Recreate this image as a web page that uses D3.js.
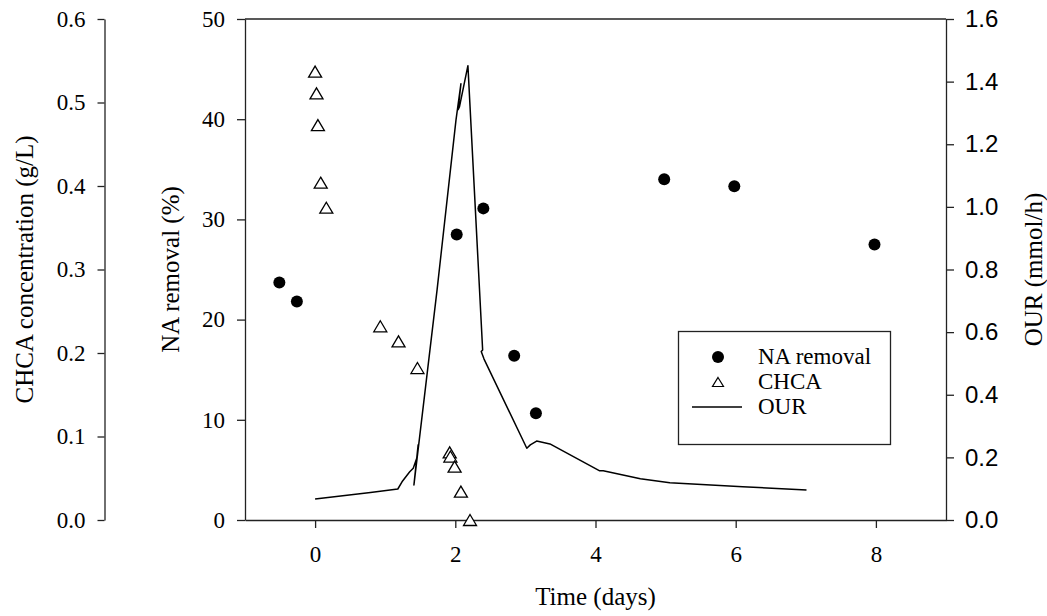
<!DOCTYPE html>
<html>
<head>
<meta charset="utf-8">
<script src="https://cdn.jsdelivr.net/npm/d3@7"></script>
<style>
  html, body { margin: 0; padding: 0; background: #fff; }
  svg { display: block; }
</style>
</head>
<body>
<svg id="chart" width="1047" height="616"></svg>
<script>
// NA removal (%) samples
const naTime = [-0.51, -0.26, 2.02, 2.40, 2.84, 3.15, 4.98, 5.98, 7.98];
const naRemoval = [23.7, 21.8, 28.5, 31.1, 16.4, 10.65, 34.0, 33.3, 27.5];

// CHCA concentration (g/L) samples
const chcaTime = [0.0, 0.02, 0.04, 0.08, 0.16, 0.93, 1.19, 1.46, 1.92, 1.93, 1.99, 2.08, 2.21];
const chcaConc = [0.537, 0.511, 0.473, 0.404, 0.374, 0.232, 0.214, 0.182, 0.081, 0.076, 0.064, 0.034, 0.0];

// OUR (mmol/h) trace, in logged order
const ourTime = [0, 0.79, 1.18, 1.24, 1.35, 1.40, 1.45, 1.47, 1.41, 1.74, 2.01, 2.08, 2.04, 2.06, 2.18,
                 2.39, 2.37, 2.41, 3.02, 3.07, 3.16, 3.35, 4.06, 4.11, 4.64, 5.06, 6.10, 7.01];
const ourRate = [0.067, 0.088, 0.099, 0.122, 0.154, 0.165, 0.197, 0.240, 0.112, 0.735, 1.278, 1.393, 1.310, 1.320, 1.451,
                 0.543, 0.538, 0.514, 0.229, 0.240, 0.252, 0.243, 0.157, 0.157, 0.132, 0.119, 0.106, 0.096];

// Tick values
const timeTicks = [0, 2, 4, 6, 8];
const naTicks = [0, 10, 20, 30, 40, 50];
const chcaTicks = [0, 0.1, 0.2, 0.3, 0.4, 0.5, 0.6];
const ourTicks = [0, 0.2, 0.4, 0.6, 0.8, 1.0, 1.2, 1.4, 1.6];

(function draw() {
  const plotL = 245, plotR = 946, plotT = 19, plotB = 520;
  const chcaAxisX = 104.5;
  const tickFont = 23;
  const sansTickFont = 24;
  const titleFont = 25;
  const axisColor = "#222";
  const serifFont = "'Liberation Serif', 'Times New Roman', serif";
  const sansFont = "'Liberation Sans', Arial, sans-serif";

  const svg = d3.select("#chart");

  const x = d3.scaleLinear().domain([-1, 9]).range([plotL, plotR]);
  const yNA = d3.scaleLinear().domain([0, 50]).range([plotB, plotT]);
  const yCHCA = d3.scaleLinear().domain([0, 0.6]).range([plotB, plotT]);
  const yOUR = d3.scaleLinear().domain([0, 1.6]).range([plotB, plotT]);

  function styleAxis(g, sans) {
    g.attr("font-family", null).attr("font-size", null);
    g.selectAll("path.domain").attr("stroke", axisColor).attr("stroke-width", 1.3);
    g.selectAll(".tick line").attr("stroke", axisColor).attr("stroke-width", 1.3);
    g.selectAll(".tick text")
      .attr("fill", "#000")
      .attr("font-size", sans ? sansTickFont : tickFont)
      .attr("font-family", sans ? sansFont : serifFont);
  }

  // Frame top edge
  svg.append("line")
    .attr("x1", plotL).attr("x2", plotR).attr("y1", plotT).attr("y2", plotT)
    .attr("stroke", axisColor).attr("stroke-width", 1.3);

  // Bottom time axis
  const gx = svg.append("g").attr("transform", `translate(0,${plotB})`)
    .call(d3.axisBottom(x).tickValues(timeTicks).tickSize(8).tickSizeOuter(0).tickPadding(18).tickFormat(d3.format("d")));
  styleAxis(gx, false);

  // NA removal axis (left side of frame)
  const gna = svg.append("g").attr("transform", `translate(${plotL},0)`)
    .call(d3.axisLeft(yNA).tickValues(naTicks).tickSize(8).tickSizeOuter(0).tickPadding(12).tickFormat(d3.format("d")));
  styleAxis(gna, false);

  // CHCA axis (detached, far left)
  const gch = svg.append("g").attr("transform", `translate(${chcaAxisX},0)`)
    .call(d3.axisLeft(yCHCA).tickValues(chcaTicks).tickSize(7).tickSizeOuter(0).tickPadding(12).tickFormat(d3.format(".1f")));
  styleAxis(gch, false);

  // OUR axis (right side of frame)
  const gour = svg.append("g").attr("transform", `translate(${plotR},0)`)
    .call(d3.axisRight(yOUR).tickValues(ourTicks).tickSize(8).tickSizeOuter(0).tickPadding(11).tickFormat(d3.format(".1f")));
  styleAxis(gour, true);

  // Axis titles
  const midY = (plotT + plotB) / 2;
  svg.append("text").attr("font-family", serifFont)
    .attr("transform", `translate(33,${midY}) rotate(-90)`)
    .attr("text-anchor", "middle").attr("font-size", titleFont)
    .text("CHCA concentration (g/L)");

  svg.append("text").attr("font-family", serifFont)
    .attr("transform", `translate(179,${midY}) rotate(-90)`)
    .attr("text-anchor", "middle").attr("font-size", titleFont)
    .text("NA removal (%)");

  svg.append("text").attr("font-family", serifFont)
    .attr("transform", `translate(1042,${midY}) rotate(-90)`)
    .attr("text-anchor", "middle").attr("font-size", titleFont)
    .text("OUR (mmol/h)");

  svg.append("text").attr("font-family", serifFont)
    .attr("x", (plotL + plotR) / 2).attr("y", 605)
    .attr("text-anchor", "middle").attr("font-size", titleFont)
    .text("Time (days)");

  // Triangle marker centred on its bounding box
  function trianglePath(w, h) {
    return `M0,${-h / 2}L${w / 2},${h / 2}L${-w / 2},${h / 2}Z`;
  }

  // OUR line
  const ourPts = ourTime.map((t, i) => [t, ourRate[i]]);
  svg.append("path")
    .datum(ourPts)
    .attr("fill", "none").attr("stroke", "#000").attr("stroke-width", 1.5)
    .attr("stroke-linejoin", "round")
    .attr("d", d3.line().x(d => x(d[0])).y(d => yOUR(d[1])));

  // CHCA triangles
  svg.append("g").selectAll("path")
    .data(chcaTime.map((t, i) => [t, chcaConc[i]]))
    .join("path")
    .attr("transform", d => `translate(${x(d[0])},${yCHCA(d[1])})`)
    .attr("d", trianglePath(13, 11))
    .attr("fill", "#fff").attr("stroke", "#000").attr("stroke-width", 1.3);

  // NA removal circles
  svg.append("g").selectAll("circle")
    .data(naTime.map((t, i) => [t, naRemoval[i]]))
    .join("circle")
    .attr("cx", d => x(d[0])).attr("cy", d => yNA(d[1]))
    .attr("r", 6).attr("fill", "#000");

  // Legend
  const lg = svg.append("g");
  lg.append("rect")
    .attr("x", 678.5).attr("y", 331.5).attr("width", 212).attr("height", 113)
    .attr("fill", "#fff").attr("stroke", axisColor).attr("stroke-width", 1.3);
  const legendRows = [
    { label: "NA removal", y: 357 },
    { label: "CHCA", y: 382 },
    { label: "OUR", y: 407 }
  ];
  lg.append("circle").attr("cx", 718).attr("cy", legendRows[0].y).attr("r", 6).attr("fill", "#000");
  lg.append("path").attr("transform", `translate(718,${legendRows[1].y})`)
    .attr("d", trianglePath(11, 9)).attr("fill", "#fff").attr("stroke", "#000").attr("stroke-width", 1.2);
  lg.append("line").attr("x1", 692).attr("x2", 742).attr("y1", legendRows[2].y).attr("y2", legendRows[2].y)
    .attr("stroke", "#000").attr("stroke-width", 1.5);
  lg.selectAll("text.lbl").data(legendRows).join("text")
    .attr("class", "lbl")
    .attr("font-family", serifFont)
    .attr("x", 758).attr("y", d => d.y + 7)
    .attr("font-size", tickFont)
    .text(d => d.label);
})();
</script>
</body>
</html>
